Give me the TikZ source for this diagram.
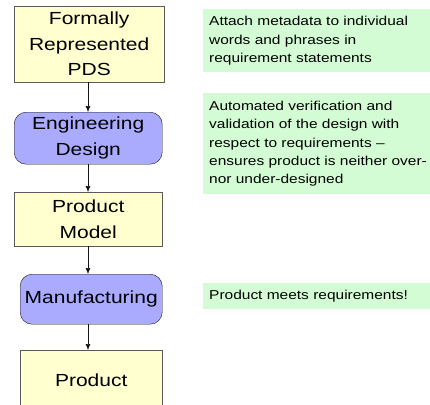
\documentclass[tikz,border=0pt]{standalone}
\usepackage{fontspec}
\setmainfont{Liberation Sans}[FakeStretch=1.2]
\definecolor{paper}{RGB}{255,255,208}
\definecolor{lilac}{RGB}{170,170,255}
\definecolor{mint}{RGB}{212,252,212}
\definecolor{edge}{RGB}{90,90,90}
\definecolor{ink}{RGB}{20,20,20}
\usetikzlibrary{arrows.meta}
\newcommand{\bigtxt}{\fontsize{17.5}{25.5}\selectfont}
\newcommand{\smalltxt}{\fontsize{12.9}{18.3}\selectfont}

\begin{document}
\begin{tikzpicture}[x=1pt,y=-1pt,
    stagebox/.style={draw=edge,fill=paper,align=center,font=\bigtxt,inner sep=0pt,anchor=north west},
    actbox/.style={stagebox,draw=ink,fill=lilac,rounded corners=12pt},
    note/.style={fill=mint,text width=250pt,inner xsep=6pt,inner ysep=0pt,align=left,font=\smalltxt,anchor=north west},
    flow/.style={-{Latex[length=6pt,width=5pt]},ink,semithick}]
        \useasboundingbox (0,0) rectangle (430,404);
        \clip (0,0) rectangle (430,404);
        % flow chain
        \node[stagebox,minimum width=150,minimum height=76] (pds) at (14,6) {Formally\\Represented\\PDS};
        \node[actbox,minimum width=148,minimum height=52] (design) at (14,112) {Engineering\\Design};
        \node[stagebox,minimum width=148,minimum height=54] (model) at (14,192) {Product\\Model};
        \node[actbox,minimum width=142,minimum height=50] (manuf) at (20,274) {Manufacturing};
        \node[stagebox,minimum width=142,minimum height=60] (product) at (20,350) {Product};
        \coordinate (ax) at (88,0);
        \draw[flow] (pds.south -| ax) -- (design.north -| ax);
        \draw[flow] (design.south -| ax) -- (model.north -| ax);
        \draw[flow] (model.south -| ax) -- (manuf.north -| ax);
        \draw[flow] (manuf.south -| ax) -- (product.north -| ax);
        % notes on the right
        \node[note,minimum height=63] (meta) at (203,9) {Attach metadata to individual\\words and phrases in\\requirement statements};
        \node[note,minimum height=101] (verify) at (203,93) {Automated verification and\\validation of the design with\\respect to requirements --\\ensures product is neither over-\\nor under-designed};
        \node[note,minimum height=26] (meets) at (203,283) {Product meets requirements!};
      \end{tikzpicture}
\end{document}
